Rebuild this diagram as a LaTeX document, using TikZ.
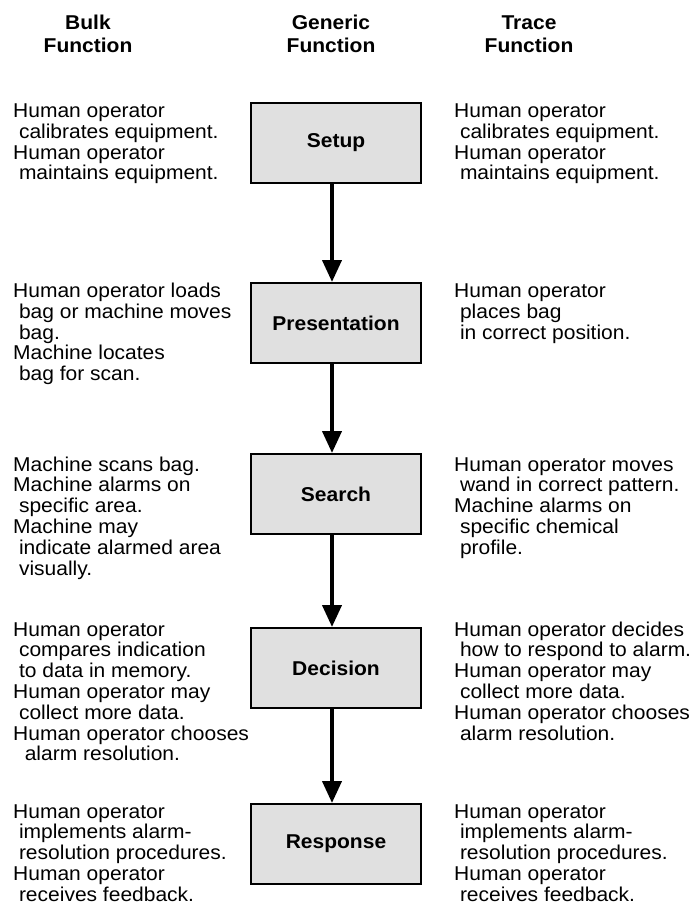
\documentclass[tikz,border=0pt]{standalone}
\usepackage{fontspec}
\setmainfont{Liberation Sans}[FakeStretch=1.05]
\usetikzlibrary{arrows.meta}
\definecolor{boxgray}{gray}{0.88}
\newcommand\lead{\hspace*{5.8pt}}
\begin{document}
\begin{tikzpicture}[x=1pt,y=-1pt,
  stage/.style={draw, line width=2pt, fill=boxgray, minimum width=170pt,
    minimum height=80pt, inner sep=0pt,
    font=\fontsize{20}{20.8}\selectfont\bfseries},
  note/.style={anchor=north west, inner sep=0pt, align=left,
    font=\fontsize{20}{20.8}\selectfont},
  head/.style={anchor=north, inner sep=0pt, align=center,
    font=\fontsize{20}{22.7}\selectfont\bfseries},
  flow/.style={line width=4pt, -{Triangle[width=19pt,length=22pt]}}]
\useasboundingbox (0,0) rectangle (693,911);

% column headings
\node[head] (hbulk) at (88,13.4) {\strut Bulk\\Function};
\node[head] (hgen) at (331,13.4) {\strut Generic\\Function};
\node[head] (htrace) at (529,13.4) {\strut Trace\\Function};

% generic function stages
\node[stage] (setup) at (336,143) {Setup};
\node[stage] (pres) at (336,323) {Presentation};
\node[stage] (search) at (336,494) {Search};
\node[stage] (decide) at (336,668) {Decision};
\node[stage] (resp) at (336,844) {Response};

\foreach \a/\b in {setup/pres, pres/search, search/decide, decide/resp}
  \draw[flow] ([xshift=-4pt]\a.south) -- ([xshift=-4pt]\b.north);

% bulk function notes
\node[note] (b1) at (13,102.7) {\strut Human operator\\\lead calibrates equipment.\\Human operator\\\lead maintains equipment.};
\node[note] (b2) at (13,282.7) {\strut Human operator loads\\\lead bag or machine moves\\\lead bag.\\Machine locates\\\lead bag for scan.};
\node[note] (b3) at (13,456.4) {\strut Machine scans bag.\\Machine alarms on\\\lead specific area.\\Machine may\\\lead indicate alarmed area\\\lead visually.};
\node[note] (b4) at (13,621.4) {\strut Human operator\\\lead compares indication\\\lead to data in memory.\\Human operator may\\\lead collect more data.\\Human operator chooses\\\lead\lead alarm resolution.};
\node[note] (b5) at (13,803.4) {\strut Human operator\\\lead implements alarm-\\\lead resolution procedures.\\Human operator\\\lead receives feedback.};

% trace function notes
\node[note] (t1) at (454,102.7) {\strut Human operator\\\lead calibrates equipment.\\Human operator\\\lead maintains equipment.};
\node[note] (t2) at (454,282.7) {\strut Human operator\\\lead places bag\\\lead in correct position.};
\node[note] (t3) at (454,456.4) {\strut Human operator moves\\\lead wand in correct pattern.\\Machine alarms on\\\lead specific chemical\\\lead profile.};
\node[note] (t4) at (454,621.4) {\strut Human operator decides\\\lead how to respond to alarm.\\Human operator may\\\lead collect more data.\\Human operator chooses\\\lead alarm resolution.};
\node[note] (t5) at (454,803.4) {\strut Human operator\\\lead implements alarm-\\\lead resolution procedures.\\Human operator\\\lead receives feedback.};
\end{tikzpicture}
\end{document}
